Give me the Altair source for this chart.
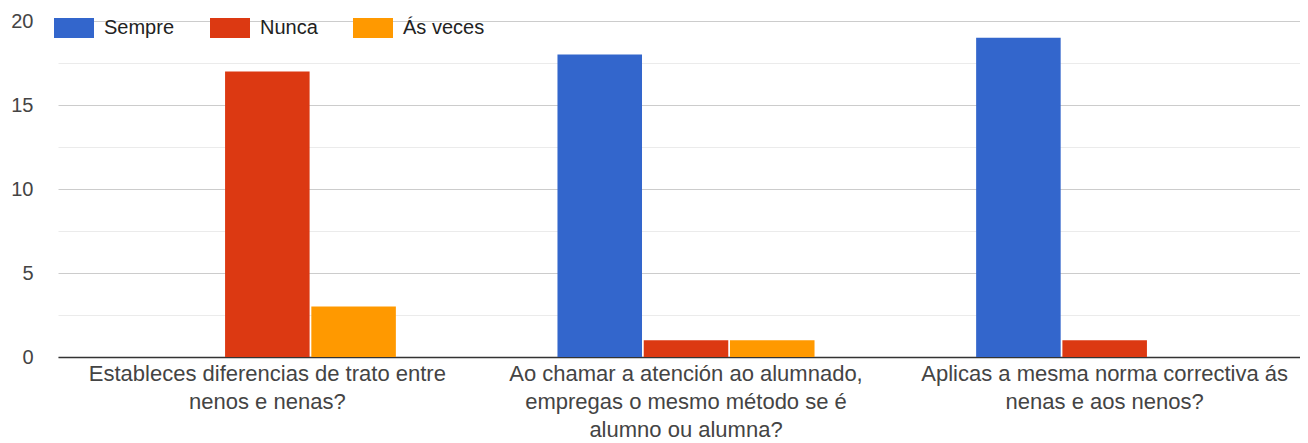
import altair as alt
import pandas as pd

questions = [
    "Estableces diferencias de trato entre nenos e nenas?",
    "Ao chamar a atención ao alumnado, empregas o mesmo método se é alumno ou alumna?",
    "Aplicas a mesma norma correctiva ás nenas e aos nenos?",
]
question_lines = [
    ["Estableces diferencias de trato entre", "nenos e nenas?"],
    ["Ao chamar a atención ao alumnado,", "empregas o mesmo método se é", "alumno ou alumna?"],
    ["Aplicas a mesma norma correctiva ás", "nenas e aos nenos?"],
]
answers = ["Sempre", "Nunca", "Ás veces"]
colors = ["#3366cc", "#dc3912", "#ff9900"]

sempre = [0, 18, 19]
nunca = [17, 1, 1]
as_veces = [3, 1, 0]

rows = []
for i, q in enumerate(questions):
    for a, vals in zip(answers, [sempre, nunca, as_veces]):
        rows.append({"pregunta": q, "resposta": a, "valor": vals[i]})
df = pd.DataFrame(rows)

def js_list(lines):
    return "[" + ",".join("'" + l.replace("'", "\\'") + "'" for l in lines) + "]"

label_expr = ""
for q, lines in zip(questions, question_lines):
    label_expr += f"datum.label == '{q}' ? {js_list(lines)} : "
label_expr += "datum.label"

FONT = "Liberation Sans, Arial, sans-serif"

chart = (
    alt.Chart(df)
    .mark_bar()
    .encode(
        x=alt.X(
            "pregunta:N",
            sort=questions,
            scale=alt.Scale(paddingInner=0.386, paddingOuter=0.193, range=[0, 1256]),
            axis=alt.Axis(
                title=None,
                labelAngle=0,
                labelExpr=label_expr,
                labelLimit=0,
                labelFontSize=22,
                labelColor="#444444",
                labelFont=FONT,
                labelLineHeight=28,
                labelPadding=6,
                labelBaseline="top",
                ticks=False,
                domainColor="#333333",
                domainWidth=1.5,
            ),
        ),
        xOffset=alt.XOffset(
            "resposta:N", sort=answers, scale=alt.Scale(paddingInner=0.02, paddingOuter=0)
        ),
        y=alt.Y(
            "valor:Q",
            scale=alt.Scale(domain=[0, 20], nice=False),
            axis=alt.Axis(
                title=None,
                values=[0, 2.5, 5, 7.5, 10, 12.5, 15, 17.5, 20],
                labelExpr="datum.value % 5 == 0 ? datum.label : ''",
                labelFontSize=20,
                labelColor="#444444",
                labelFont=FONT,
                labelPadding=25,
                ticks=False,
                domain=False,
                gridColor={
                    "condition": {"test": "datum.value % 5 == 0", "value": "#cccccc"},
                    "value": "#ebebeb",
                },
            ),
        ),
        color=alt.Color(
            "resposta:N",
            sort=answers,
            scale=alt.Scale(domain=answers, range=colors),
            legend=alt.Legend(
                title=None,
                orient="none",
                direction="horizontal",
                legendX=-4,
                legendY=-13,
                symbolType="M-1,-0.5H1V0.5H-1Z",
                symbolSize=1600,
                symbolStrokeWidth=0,
                symbolOpacity=1,
                labelFontSize=20,
                labelFont=FONT,
                labelColor="#222222",
                labelOffset=10,
                columnPadding=35,
                padding=0,
            ),
        ),
    )
    .properties(
        width=1242,
        height=336,
        padding={"left": 50, "top": 13, "right": 0, "bottom": 86},
        autosize=alt.AutoSizeParams(type="none"),
    )
    .configure_view(stroke=None)
)

chart.save("out.html", embed_options={"renderer": "svg", "actions": False})
